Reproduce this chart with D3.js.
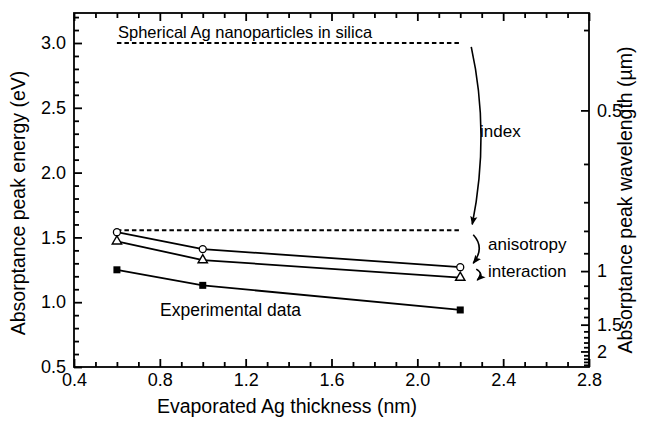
<!DOCTYPE html>
<html><head><meta charset="utf-8">
<script src="https://cdn.jsdelivr.net/npm/d3@7"></script>
<style>
body{margin:0;background:#fff;}
text{font-family:"Liberation Sans",Arial,sans-serif;fill:#000;}
</style></head>
<body><svg id="c" width="649" height="425"></svg>
<script>
const thickness = [0.6, 1.0, 2.2];
const openCircle = [1.54, 1.41, 1.27];
const openTriangle = [1.47, 1.325, 1.19];
const experimental = [1.25, 1.13, 0.94];
const sphericalLevel = 3.0;
const indexLevel = 1.555;
const xTicks = [0.4, 0.8, 1.2, 1.6, 2.0, 2.4, 2.8];
const yTicks = [0.5, 1.0, 1.5, 2.0, 2.5, 3.0];
const wlMajor = [0.5, 1, 1.5, 2];
const wlMinor = [0.4,0.6,0.7,0.8,0.9,1.1,1.2,1.3,1.4,1.6,1.7,1.8,1.9,2.1,2.2,2.3,2.4];
const hc = 1.24;

const svg = d3.select("#c");
const L=74, R=589, T=13, B=367;
const x = d3.scaleLinear().domain([0.4, 2.8]).range([L, R]);
const yTop = 3.0 + (43 - T) * 2.5 / (B - 43);
const y = d3.scaleLinear().domain([0.5, yTop]).range([B, T]);

const xMinor = d3.range(5, 28).map(d => d/10).filter(v => !xTicks.some(t => Math.abs(t-v)<1e-9));
const yMinor = d3.range(6, 33).map(d => d/10).filter(v => !yTicks.some(t => Math.abs(t-v)<1e-9) && v <= yTop);

function styleAxis(g){ g.select(".domain").remove(); g.selectAll(".tick line").attr("stroke","#000").attr("stroke-width",1.8); g.selectAll("text").attr("font-size","18px"); }

svg.append("g").attr("transform",`translate(0,${B})`).call(d3.axisBottom(x).tickValues(xTicks).tickFormat(d3.format(".1f")).tickSize(-8).tickPadding(6)).call(styleAxis);
svg.append("g").attr("transform",`translate(0,${B})`).call(d3.axisBottom(x).tickValues(xMinor).tickFormat("").tickSize(-5)).call(styleAxis);
svg.append("g").attr("transform",`translate(0,${T})`).call(d3.axisTop(x).tickValues(xTicks).tickFormat("").tickSize(-8)).call(styleAxis);
svg.append("g").attr("transform",`translate(0,${T})`).call(d3.axisTop(x).tickValues(xMinor).tickFormat("").tickSize(-5)).call(styleAxis);
svg.append("g").attr("transform",`translate(${L},0)`).call(d3.axisLeft(y).tickValues(yTicks).tickFormat(d3.format(".1f")).tickSize(-8).tickPadding(8)).call(styleAxis);
svg.append("g").attr("transform",`translate(${L},0)`).call(d3.axisLeft(y).tickValues(yMinor).tickFormat("").tickSize(-5)).call(styleAxis);
svg.append("g").attr("transform",`translate(${R},0)`).call(d3.axisRight(y).tickValues(wlMajor.map(l=>hc/l)).tickFormat(e => d3.format("~g")(Math.round(hc/e*10)/10)).tickSize(-8).tickPadding(8)).call(styleAxis);
svg.append("g").attr("transform",`translate(${R},0)`).call(d3.axisRight(y).tickValues(wlMinor.map(l=>hc/l).filter(e=>e<=yTop && e>=0.5)).tickFormat("").tickSize(-5)).call(styleAxis);

svg.append("rect").attr("x",L).attr("y",T).attr("width",R-L).attr("height",B-T).attr("fill","none").attr("stroke","#000").attr("stroke-width",1.8);

[sphericalLevel, indexLevel].forEach(v => {
  svg.append("line").attr("x1",x(thickness[0])).attr("x2",x(thickness[2])).attr("y1",y(v)).attr("y2",y(v))
    .attr("stroke","#000").attr("stroke-width",2).attr("stroke-dasharray","4.5,3");
});

const line = d3.line().x((d,i)=>x(thickness[i])).y(d=>y(d));
[openCircle, openTriangle, experimental].forEach(s => {
  svg.append("path").attr("d", line(s)).attr("fill","none").attr("stroke","#000").attr("stroke-width",1.8);
});
svg.selectAll(".sq").data(experimental).enter().append("rect")
  .attr("x",(d,i)=>x(thickness[i])-3.5).attr("y",d=>y(d)-3.5).attr("width",7).attr("height",7).attr("fill","#000");
svg.selectAll(".tri").data(openTriangle).enter().append("path")
  .attr("d", d3.symbol().type(d3.symbolTriangle).size(38))
  .attr("transform",(d,i)=>`translate(${x(thickness[i])},${y(d)})`)
  .attr("fill","#fff").attr("stroke","#000").attr("stroke-width",1.4);
svg.selectAll(".cir").data(openCircle).enter().append("circle")
  .attr("cx",(d,i)=>x(thickness[i])).attr("cy",d=>y(d)).attr("r",3.5)
  .attr("fill","#fff").attr("stroke","#000").attr("stroke-width",1.3);

const defs = svg.append("defs");
defs.append("marker").attr("id","ah").attr("viewBox","0 0 10 10").attr("refX",9).attr("refY",5)
  .attr("markerWidth",9).attr("markerHeight",9).attr("markerUnits","userSpaceOnUse").attr("orient","auto")
  .append("path").attr("d","M0,1 L10,5 L0,9 L2,5 Z").attr("fill","#000");
function arrow(p){ svg.append("path").attr("d",p).attr("fill","none").attr("stroke","#000").attr("stroke-width",1.6).attr("marker-end","url(#ah)"); }
const xa = x(2.2);
arrow(`M${xa+11},${y(2.97)} Q${xa+30},${y(2.3)} ${xa+12},${y(1.6)}`);
arrow(`M${xa+13},${y(1.52)} Q${xa+25},${y(1.42)} ${xa+13},${y(1.3)}`);
arrow(`M${xa+16},${y(1.255)} Q${xa+24},${y(1.22)} ${xa+17},${y(1.17)}`);

svg.append("text").attr("x",118).attr("y",38).attr("font-size","16.5px").text("Spherical Ag nanoparticles in silica");
svg.append("text").attr("x",480).attr("y",137).attr("font-size","17px").text("index");
svg.append("text").attr("x",488).attr("y",250).attr("font-size","17px").text("anisotropy");
svg.append("text").attr("x",488).attr("y",277).attr("font-size","17px").text("interaction");
svg.append("text").attr("x",160).attr("y",316).attr("font-size","17.5px").text("Experimental data");

svg.append("text").attr("x",287).attr("y",413).attr("text-anchor","middle").attr("font-size","19.5px").text("Evaporated Ag thickness (nm)");
svg.append("text").attr("transform",`translate(25,203) rotate(-90)`).attr("text-anchor","middle").attr("font-size","19.5px").text("Absorptance peak energy (eV)");
svg.append("text").attr("transform",`translate(632,${(T+B)/2+10}) rotate(-90)`).attr("text-anchor","middle").attr("font-size","19.5px").text("Absorptance peak wavelength (µm)");
</script></body></html>
